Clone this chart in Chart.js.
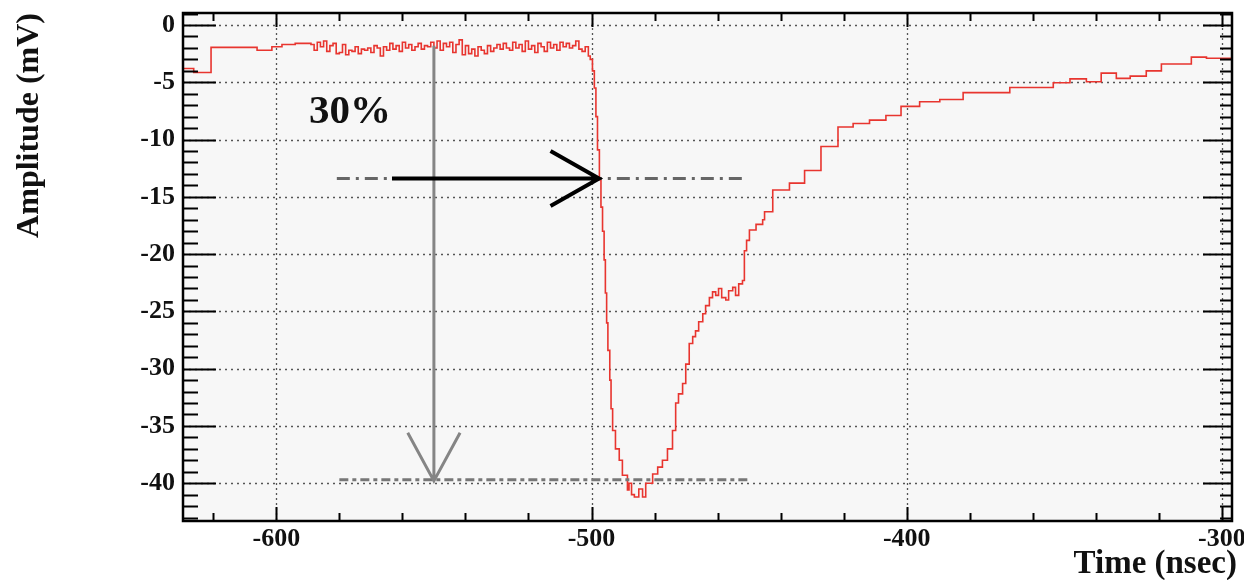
<!DOCTYPE html>
<html>
<head>
<meta charset="utf-8">
<script src="https://cdn.jsdelivr.net/npm/chart.js@4.4.1/dist/chart.umd.min.js"></script>
<style>
  html, body { margin: 0; padding: 0; background: #fff; }
  #wrap { width: 1244px; height: 580px; }
</style>
</head>
<body>
<div id="wrap"><canvas id="pulseChart"></canvas></div>
<script>
// Time (ns) at the start of each step, and the amplitude (mV) held until the next one
const timeNs = [
  -629.6, -626.2, -620.7, -606.1, -601.4, -598.2, -594,
  -589, -588, -587, -586, -585, -584, -583, -582, -581, -580,
  -579, -578, -577, -576, -575, -574, -573, -572, -571, -570,
  -569, -568, -567, -566, -565, -564, -563, -562, -561, -560,
  -559, -558, -557, -556, -555, -554, -553, -552, -551, -550,
  -549, -548, -547, -546, -545, -544, -543, -542, -541, -540,
  -539, -538, -537, -536, -535, -534, -533, -532, -531, -530,
  -529, -528, -527, -526, -525, -524, -523, -522, -521, -520,
  -519, -518, -517, -516, -515, -514, -513, -512, -511, -510,
  -509, -508, -507, -506, -505, -504, -503, -502, -501,
  -500.4, -499.7, -499.1, -498.6, -498.1, -497.5, -497.0, -496.5, -496.0, -495.6,
  -495.2, -494.8, -494.2, -493.8, -493.3, -492.4, -491.2, -490.2, -488.6, -488.1,
  -487.3, -486.4, -485.0, -483.8, -482.8, -480.6, -479.0, -477.5, -475.9, -474.3,
  -473.3, -472.4, -471.1, -470.1, -469.0, -467.9, -467.0, -466.0, -464.7, -463.8,
  -462.6, -461.6, -460.6, -459.7, -458.7, -457.4, -456.5, -455.2, -454.3, -453.3,
  -452.1, -451.5, -450.8, -449.9, -447.8, -445.7, -445.1, -442.5, -437.2, -432.4,
  -427.2, -421.8, -417.0, -411.8, -406.6, -401.8, -395.9, -389.5, -382.1, -367.3,
  -353.5, -348.2, -343.0, -338.3, -333.5, -329.1, -324.0, -319.2, -309.7, -304.9,
  -297
];
const amplitudeMv = [
  -3.8, -4.15, -1.95, -2.2, -1.9, -1.7, -1.6,
  -1.7, -2.2, -1.5, -1.9, -1.4, -2.3, -1.8, -1.6, -2.5, -2.4,
  -1.7, -2.6, -2.2, -2.3, -1.9, -2.5, -2.1, -2.2, -2.0, -2.4,
  -1.8, -2.0, -2.7, -1.9, -2.2, -1.6, -2.1, -1.8, -2.3, -1.5,
  -2.0, -1.7, -2.2, -1.9, -1.6, -2.1, -1.8, -1.9, -1.5, -2.0,
  -1.4, -2.2, -1.6, -1.9, -1.5, -2.4, -1.7, -1.3, -2.6, -1.8,
  -2.5, -2.1, -2.7, -1.9, -2.2, -2.5, -1.8, -2.3, -2.0, -1.7,
  -2.1, -1.6, -2.0, -2.2, -1.5, -2.0, -1.7, -2.3, -1.4, -2.1,
  -1.8, -2.4, -1.6, -1.9, -2.3, -1.5, -2.0, -1.7, -2.2, -1.5,
  -1.9, -1.6, -2.0, -1.8, -1.4, -2.1, -2.3, -1.9, -2.7,
  -3.0, -4.0, -5.5, -8.0, -10.9, -13.5, -15.9, -18.0, -20.5, -23.4,
  -26.0, -28.4, -31.0, -33.5, -35.4, -37.0, -38.0, -39.3, -40.6, -40.0,
  -41.0, -41.2, -40.5, -41.2, -40.0, -39.2, -38.6, -38.0, -37.0, -35.4,
  -33.0, -32.2, -31.3, -29.6, -27.8, -27.2, -26.7, -25.9, -25.2, -24.5,
  -23.8, -23.3, -23.6, -23.0, -23.8, -24.0, -23.2, -22.9, -23.6, -22.6,
  -22.3, -19.7, -18.8, -17.9, -17.4, -17.0, -16.3, -14.4, -13.8, -12.7,
  -10.6, -8.9, -8.6, -8.3, -7.9, -7.1, -6.7, -6.5, -5.9, -5.45,
  -5.04, -4.7, -4.95, -4.2, -4.66, -4.46, -4.0, -3.4, -2.8, -2.9,
  -2.9
];
const xTickValues = [-600, -500, -400, -300];
const yTickValues = [0, -5, -10, -15, -20, -25, -30, -35, -40];

const SERIF = '"Liberation Serif", "Times New Roman", serif';

// ROOT-like frame: shaded pad, dotted grid, inner ticks, and the 30% markers
const rootFrame = {
  id: 'rootFrame',
  beforeDraw(chart) {
    const { ctx, chartArea: a } = chart;
    ctx.save();
    ctx.fillStyle = '#ffffff';
    ctx.fillRect(0, 0, chart.width, chart.height);
    ctx.fillStyle = '#f7f7f7';
    ctx.fillRect(a.left, a.top, a.right - a.left, a.bottom - a.top);
    ctx.restore();
  },
  beforeDatasetsDraw(chart) {
    const { ctx, chartArea: a, scales: { x, y } } = chart;
    ctx.save();
    ctx.strokeStyle = '#555';
    ctx.lineWidth = 1.3;
    ctx.setLineDash([2, 4]);
    yTickValues.forEach(v => {
      const py = Math.round(y.getPixelForValue(v)) + 0.5;
      ctx.beginPath(); ctx.moveTo(a.left, py); ctx.lineTo(a.right, py); ctx.stroke();
    });
    ctx.setLineDash([2, 3]);
    xTickValues.forEach(v => {
      const px = Math.round(x.getPixelForValue(v)) + 0.5;
      ctx.beginPath(); ctx.moveTo(px, a.top); ctx.lineTo(px, a.bottom); ctx.stroke();
    });
    ctx.restore();
  },
  afterDatasetsDraw(chart) {
    const { ctx, chartArea: a, scales: { x, y } } = chart;
    const X = v => x.getPixelForValue(v);
    const Y = v => y.getPixelForValue(v);
    ctx.save();
    ctx.lineCap = 'butt';

    // dash-dot line at 30% level
    ctx.strokeStyle = '#666';
    ctx.lineWidth = 3;
    ctx.setLineDash([13, 6, 3, 6]);
    ctx.beginPath(); ctx.moveTo(X(-580.8), Y(-13.4)); ctx.lineTo(X(-450.5), Y(-13.4)); ctx.stroke();

    // dashed line at the peak
    ctx.strokeStyle = '#777';
    ctx.setLineDash([9, 4, 4, 4]);
    ctx.beginPath(); ctx.moveTo(X(-580), Y(-39.7)); ctx.lineTo(X(-450), Y(-39.7)); ctx.stroke();
    ctx.setLineDash([]);

    // gray vertical arrow (full amplitude)
    ctx.strokeStyle = '#858585';
    ctx.lineWidth = 3;
    ctx.beginPath();
    ctx.moveTo(X(-550), Y(-1.8)); ctx.lineTo(X(-550), Y(-39.8));
    ctx.moveTo(X(-558.3), Y(-35.6)); ctx.lineTo(X(-550), Y(-39.8)); ctx.lineTo(X(-541.7), Y(-35.6));
    ctx.stroke();

    // black horizontal arrow (30% crossing)
    ctx.strokeStyle = '#000';
    ctx.lineWidth = 4;
    ctx.beginPath();
    ctx.moveTo(X(-563.3), Y(-13.4)); ctx.lineTo(X(-497.6), Y(-13.4));
    ctx.moveTo(X(-513), Y(-11.0)); ctx.lineTo(X(-497.6), Y(-13.4)); ctx.lineTo(X(-513), Y(-15.8));
    ctx.stroke();

    ctx.fillStyle = '#111';
    ctx.font = 'bold 41px ' + SERIF;
    ctx.textAlign = 'center';
    ctx.textBaseline = 'middle';
    ctx.fillText('30%', X(-576.6), Y(-7.6));

    // inner ticks
    ctx.strokeStyle = '#000';
    ctx.lineWidth = 2;
    ctx.beginPath();
    for (let v = Math.ceil(y.min); v <= Math.floor(y.max); v++) {
      const py = Math.round(Y(v)) + 0.5;
      const len = v % 5 === 0 ? 33 : 15;
      ctx.moveTo(a.left, py); ctx.lineTo(a.left + len, py);
      ctx.moveTo(a.right, py); ctx.lineTo(a.right - (v % 5 === 0 ? 29 : 12), py);
    }
    for (let v = Math.ceil(x.min / 20) * 20; v <= x.max; v += 20) {
      const px = Math.round(X(v)) + 0.5;
      const len = v % 100 === 0 ? 14 : 8;
      ctx.moveTo(px, a.bottom); ctx.lineTo(px, a.bottom - len);
      ctx.moveTo(px, a.top); ctx.lineTo(px, a.top + len);
    }
    ctx.stroke();

    // frame
    ctx.lineWidth = 2.5;
    ctx.strokeRect(a.left, a.top, a.right - a.left, a.bottom - a.top);

    // x axis title, right-aligned just past the frame like the original
    ctx.fillStyle = '#111';
    ctx.font = 'bold 33px ' + SERIF;
    ctx.textAlign = 'right';
    ctx.textBaseline = 'alphabetic';
    ctx.fillText('Time (nsec)', a.right + 5, 573);
    ctx.restore();
  }
};

const ctx = document.getElementById('pulseChart').getContext('2d');

new Chart(ctx, {
  type: 'line',
  data: {
    datasets: [{
      data: timeNs.map((t, i) => ({ x: t, y: amplitudeMv[i] })),
      borderColor: '#e8352f',
      borderWidth: 1.6,
      pointRadius: 0,
      // each value holds from its own time until the next one (histogram steps)
      stepped: 'before',
      fill: false
    }]
  },
  options: {
    responsive: true,
    maintainAspectRatio: false,
    animation: false,
    devicePixelRatio: 1,
    layout: { padding: { top: 13, right: 12, left: 0, bottom: 0 } },
    plugins: {
      legend: { display: false },
      tooltip: { enabled: false }
    },
    scales: {
      x: {
        type: 'linear',
        min: -629.6,
        max: -296.8,
        grid: { display: false, drawTicks: false },
        border: { display: false },
        afterBuildTicks: s => { s.ticks = xTickValues.map(v => ({ value: v })); },
        afterFit: s => { s.height = 59; s.paddingLeft = 0; s.paddingRight = 0; },
        ticks: {
          padding: 3,
          maxRotation: 0,
          color: '#111',
          font: { family: SERIF, size: 26, weight: 'bold' }
        }
      },
      y: {
        min: -43.3,
        max: 1.05,
        grid: { display: false, drawTicks: false },
        border: { display: false },
        afterBuildTicks: s => { s.ticks = yTickValues.map(v => ({ value: v })); },
        afterFit: s => { s.width = 183; s.paddingTop = 0; s.paddingBottom = 0; },
        ticks: {
          padding: 8,
          color: '#111',
          font: { family: SERIF, size: 26, weight: 'bold' }
        },
        title: {
          display: true,
          text: 'Amplitude (mV)',
          align: 'end',
          color: '#111',
          padding: { top: 14, bottom: 0 },
          font: { family: SERIF, size: 32, weight: 'bold', lineHeight: 1 }
        }
      }
    }
  },
  plugins: [rootFrame]
});
</script>
</body>
</html>
